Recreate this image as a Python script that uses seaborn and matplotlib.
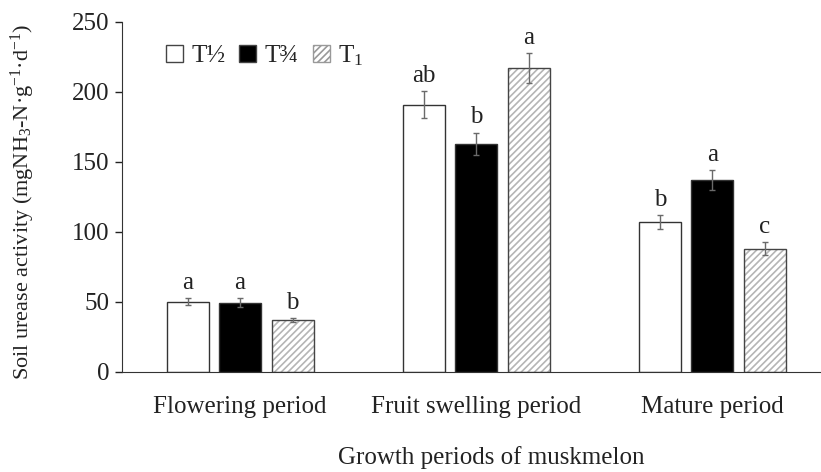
import matplotlib
matplotlib.use("Agg")
import matplotlib.pyplot as plt
import seaborn as sns
import pandas as pd
import numpy as np

# --- datos ---
periods = ["Flowering period", "Fruit swelling period", "Mature period"]
treatments = ["T½", "T¾", "T$_1$"]
t_half = [50.0, 191.0, 107.0]
t_three_quarter = [49.5, 163.0, 137.0]
t_one = [37.0, 217.0, 88.0]
err_half = [2.5, 9.5, 5.0]
err_three_quarter = [3.0, 8.0, 7.0]
err_one = [1.5, 10.5, 4.5]
letters_half = ["a", "ab", "b"]
letters_three_quarter = ["a", "b", "a"]
letters_one = ["b", "a", "c"]

values = [t_half, t_three_quarter, t_one]
errors = [err_half, err_three_quarter, err_one]
letters = [letters_half, letters_three_quarter, letters_one]

rows = []
for t, vals in zip(treatments, values):
    for p, v in zip(periods, vals):
        rows.append({"period": p, "treatment": t, "value": v})
df = pd.DataFrame(rows)

sns.set_style("ticks")
plt.rcParams["font.family"] = ["Liberation Serif", "DejaVu Serif"]
plt.rcParams["mathtext.fontset"] = "custom"
plt.rcParams["mathtext.rm"] = "Liberation Serif"
plt.rcParams["mathtext.it"] = "Liberation Serif:italic"
plt.rcParams["hatch.linewidth"] = 1.2

FS = 18
txt_col = "#222222"

fig = plt.figure(figsize=(8.21, 4.72), dpi=100)
ax = fig.add_axes([0.1486, 0.2119, 0.8514, 0.7415])

sns.barplot(data=df, x="period", y="value", hue="treatment",
            palette=["white", "black", "white"], edgecolor="#333333",
            linewidth=1.0, width=0.667, gap=0.2, ax=ax, legend=True)

edge_col = "#444444"
hatch_col = "#b5b5b5"
bar_conts = list(ax.containers)
for i, cont in enumerate(bar_conts):
    for j, bar in enumerate(cont.patches):
        cx = bar.get_x() + bar.get_width() / 2
        top = bar.get_height()
        if i == 2:
            bar.set_hatch("/////")
            bar.set_edgecolor(hatch_col)
            bar.set_linewidth(0)
            outline = plt.Rectangle((bar.get_x(), 0), bar.get_width(), top,
                                    fill=False, edgecolor=edge_col, linewidth=1.0,
                                    zorder=bar.get_zorder() + 0.1)
            ax.add_patch(outline)
        e = errors[i][j]
        ax.errorbar(cx, top, yerr=e, fmt="none", ecolor="#6a6a6a",
                    elinewidth=1.0, capsize=2.2, capthick=1.0, zorder=5)
        ax.text(cx, top + e + 3, letters[i][j], ha="center", va="bottom",
                fontsize=FS, color=txt_col)

# legenda
handles, labels = ax.get_legend_handles_labels()
for k, h in enumerate(handles):
    h.set_edgecolor(edge_col)
    h.set_linewidth(1.0)
    if k == 2:
        h.set_hatch("/////")
        h.set_edgecolor("#999999")
ax.legend(handles, labels, loc="center left", bbox_to_anchor=(0.063, 0.905),
          ncol=3, frameon=False, fontsize=FS, handlelength=0.68, handleheight=0.68,
          handletextpad=0.32, columnspacing=0.56, borderaxespad=0, borderpad=0)

ax.set_xlim(-0.5, 2.46)
ax.set_ylim(0, 250)
ax.set_yticks([0, 50, 100, 150, 200, 250])
ax.tick_params(axis="y", direction="out", length=5, labelsize=FS, colors=txt_col,
               width=1.0, pad=4)
ax.tick_params(axis="x", length=0, labelsize=FS, colors=txt_col, pad=17)
sns.despine(ax=ax)
ax.spines["left"].set_color("#333333")
ax.spines["bottom"].set_color("#333333")

ax.set_xlabel("Growth periods of muskmelon", fontsize=FS, color=txt_col)
ax.xaxis.set_label_coords(0.528, -0.212)
ax.set_ylabel("Soil urease activity (mgNH$_3$-N·g$^{-1}$·d$^{-1}$)", fontsize=16,
              color=txt_col)
ax.yaxis.set_label_coords(-0.1216, 0.485)

fig.savefig("out.png", dpi=100)
